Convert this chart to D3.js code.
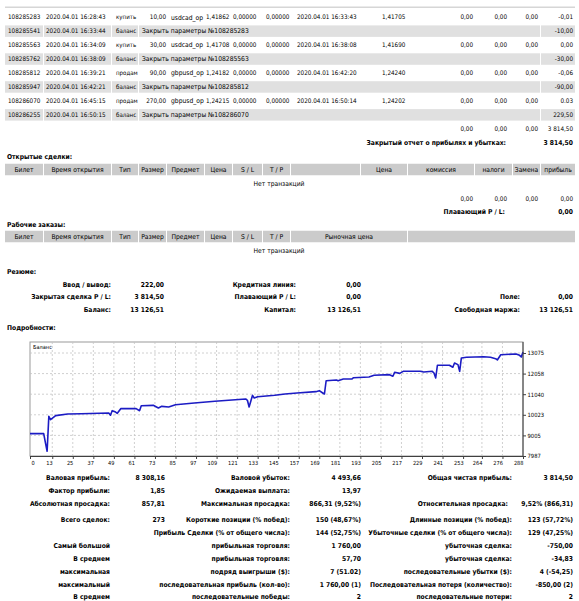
<!DOCTYPE html>
<html>
<head>
<meta charset="utf-8">
<script src="https://cdn.jsdelivr.net/npm/d3@7"></script>
<style>
body { margin: 0; background: #fff; }
svg text { font-family: "DejaVu Sans Condensed", "Liberation Sans", sans-serif; fill: #000; }
</style>
</head>
<body>
<div id="page"></div>
<script>
// --- closed trades table ---
const tickets = ["108285283", "108285541", "108285563", "108285762", "108285812", "108285947", "108286070", "108286255"];
const openTimes = ["2020.04.01 16:28:43", "2020.04.01 16:33:44", "2020.04.01 16:34:09", "2020.04.01 16:38:09",
                   "2020.04.01 16:39:21", "2020.04.01 16:42:21", "2020.04.01 16:45:15", "2020.04.01 16:50:15"];
const types = ["купить", "баланс", "купить", "баланс", "продам", "баланс", "продам", "баланс"];
const sizes = ["10,00", "", "30,00", "", "90,00", "", "270,00", ""];
const items = ["usdcad_op", "", "usdcad_op", "", "gbpusd_op", "", "gbpusd_op", ""];
const openPrices = ["1,41862", "", "1,41708", "", "1,24182", "", "1,24215", ""];
const comments = ["", "Закрыть параметры №108285283", "", "Закрыть параметры №108285563", "", "Закрыть параметры №108285812", "", "Закрыть параметры №108286070"];
const closeTimes = ["2020.04.01 16:33:43", "", "2020.04.01 16:38:08", "", "2020.04.01 16:42:20", "", "2020.04.01 16:50:14", ""];
const closePrices = ["1,41705", "", "1,41690", "", "1,24240", "", "1,24202", ""];
const profits = ["-0,01", "-10,00", "0,00", "-30,00", "-0,06", "-90,00", "0.03", "229,50"];

const headerLabels = ["Билет", "Время открытия", "Тип", "Размер", "Предмет", "Цена", "S / L", "T / P"];
const openHeaderExtra = ["", "Цена", "комиссия", "налоги", "Замена", "прибыль"];
const pendingHeaderExtra = ["Рыночная цена", ""];

// --- summary ---
const summaryRows = [
  ["Ввод / вывод:", "222,00", "Кредитная линия:", "0,00", "", ""],
  ["Закрытая сделка P / L:", "3 814,50", "Плавающий P / L:", "0,00", "Поле:", "0,00"],
  ["Баланс:", "13 126,51", "Капитал:", "13 126,51", "Свободная маржа:", "13 126,51"]
];

// --- balance curve (trade number -> balance) ---
const tradeNo = [0, 8, 9, 10, 11, 12, 15, 22, 30, 46, 47, 48, 50, 51, 53, 62, 64, 65, 72, 75, 77, 81, 85, 96, 108,
  126, 127, 128, 130, 131, 133, 143, 149, 156, 167, 169, 171, 172, 173, 179, 180, 183, 188, 189, 198, 201,
  210, 212, 213, 216, 218, 228, 230, 235, 236, 237, 238, 245, 247, 248, 250, 251, 252, 255, 265, 269, 272,
  273, 275, 284, 286, 287, 288];
const balance = [9090, 9090, 8650, 8220, 9950, 9780, 9980, 10060, 10075, 10110, 10000, 10225, 10160, 10095, 10325,
  10325, 10225, 10470, 10490, 10360, 10440, 10410, 10520, 10605, 10690, 10805, 10740, 10410, 10985, 10850,
  10915, 10985, 11050, 11100, 11165, 11215, 11100, 11050, 11705, 11740, 11705, 11790, 11790, 11855, 11890,
  11975, 12005, 11925, 12120, 12070, 12170, 12170, 12135, 12170, 12085, 11840, 12470, 12470, 12370, 12580,
  12500, 12170, 12830, 12865, 12890, 12865, 12795, 12730, 12990, 13025, 12960, 12875, 13126.51];
const xTicks = [0, 13, 25, 37, 49, 61, 73, 85, 97, 109, 121, 133, 145, 157, 169, 181, 193, 205, 217, 229, 241, 253, 264, 276, 288];
const yTicks = [7987, 9005, 10023, 11040, 12058, 13075];

// --- details ---
const statsRows = [
  ["Валовая прибыль:", "8 308,16", "Валовой убыток:", "4 493,66", "Общая чистая прибыль:", "3 814,50"],
  ["Фактор прибыли:", "1,85", "Ожидаемая выплата:", "13,97", "", ""],
  ["Абсолютная просадка:", "857,81", "Максимальная просадка:", "866,31 (9,52%)", "Относительная просадка:", "9,52% (866,31)"],
  ["Всего сделок:", "273", "Короткие позиции (% побед):", "150 (48,67%)", "Длинные позиции (% побед):", "123 (57,72%)"],
  ["", "", "Прибыль Сделки (% от общего числа):", "144 (52,75%)", "Убыточные сделки (% от общего числа):", "129 (47,25%)"],
  ["Самый большой", "", "прибыльная торговля:", "1 760,00", "убыточная сделка:", "-750,00"],
  ["В среднем", "", "прибыльная торговля:", "57,70", "убыточная сделка:", "-34,83"],
  ["максимальная", "", "подряд выигрыши ($):", "7 (51.02)", "последовательные убытки ($):", "4 (-54,25)"],
  ["максимальный", "", "последовательная прибыль (кол-во):", "1 760,00 (1)", "Последовательная потеря (количество):", "-850,00 (2)"],
  ["В среднем", "", "последовательные победы:", "2", "последовательные потери:", "2"]
];

const W = 579, H = 601, FS = 6.7;
const svg = d3.select("#page").append("svg").attr("width", W).attr("height", H);
svg.append("rect").attr("width", W).attr("height", H).attr("fill", "#fff");

function txt(x, y, s, anchor, bold, size) {
  if (!s) return;
  svg.append("text")
    .attr("x", x).attr("y", y).attr("dy", "0.35em")
    .attr("text-anchor", anchor || "start")
    .attr("font-size", size || FS)
    .attr("font-weight", bold ? "bold" : "normal")
    .text(s);
}
function cells(y, h, bounds, fill) {
  bounds.forEach(b => {
    svg.append("rect").attr("x", b[0]).attr("y", y - h / 2).attr("width", b[1] - b[0]).attr("height", h).attr("fill", fill);
  });
}

// top strip
svg.append("rect").attr("x", 5).attr("y", 6.5).attr("width", 570).attr("height", 1.5).attr("fill", "#d6d6d6");

// closed trades
const rowY = i => 17.2 + 13.95 * i;
const NUM = 6.3; // numeric columns are a touch tighter in the reference
tickets.forEach((t, i) => {
  const y = rowY(i);
  if (types[i] === "баланс") cells(y, 11.5, [[5, 43], [44, 111], [112, 138], [139, 540], [541, 575]], "#e0e0e0");
  txt(8, y, t, "start", false, NUM);
  txt(46, y, openTimes[i], "start", false, NUM);
  txt(116, y, types[i], "start", false, 6.1);
  if (types[i] === "баланс") {
    txt(142, y, comments[i]);
  } else {
    txt(166, y, sizes[i], "end", false, NUM);
    txt(171, y, items[i]);
    txt(206, y, openPrices[i], "start", false, NUM);
    txt(233, y, "0,00000", "start", false, NUM);
    txt(266, y, "0,00000", "start", false, NUM);
    txt(297, y, closeTimes[i], "start", false, NUM);
    txt(382, y, closePrices[i], "start", false, NUM);
    txt(473, y, "0,00", "end", false, NUM);
    txt(507, y, "0,00", "end", false, NUM);
    txt(538, y, "0,00", "end", false, NUM);
  }
  txt(573, y, profits[i], "end", false, NUM);
});
txt(473, rowY(8), "0,00", "end", false, NUM);
txt(507, rowY(8), "0,00", "end", false, NUM);
txt(538, rowY(8), "0,00", "end", false, NUM);
txt(573, rowY(8), "3 814,50", "end", false, NUM);
txt(506, rowY(9), "Закрытый отчет о прибылях и убытках:", "end", true);
txt(573, rowY(9), "3 814,50", "end", true);

// open trades / pending orders headers
const baseCells = [[5, 43], [44, 111], [112, 138], [139, 166], [167, 204], [205, 232], [233, 262], [263, 290]];
function header(y, extraCells, extraLabels) {
  const all = baseCells.concat(extraCells);
  const labs = headerLabels.concat(extraLabels);
  cells(y, 11.5, all, "#cbcbcb");
  all.forEach((c, i) => txt((c[0] + c[1]) / 2, y, labs[i], "middle"));
}
txt(7, 157, "Открытые сделки:", "start", true);
header(169.5, [[291, 360], [361, 407], [408, 474], [475, 512], [513, 540], [541, 575]], openHeaderExtra);
txt(279, 183.5, "Нет транзакций", "middle");
txt(473, 199, "0,00", "end", false, NUM);
txt(507, 199, "0,00", "end", false, NUM);
txt(538, 199, "0,00", "end", false, NUM);
txt(573, 199, "0,00", "end", false, NUM);
txt(505, 211.5, "Плавающий P / L:", "end", true);
txt(573, 211.5, "0,00", "end", true);

txt(7, 225, "Рабочие заказы:", "start", true);
header(236.5, [[291, 407], [408, 575]], pendingHeaderExtra);
txt(279, 250.5, "Нет транзакций", "middle");

// summary
txt(7, 271.5, "Резюме:", "start", true);
const sumY = [284.5, 297, 309.5];
const sumCols = [111, 164, 296, 361, 520, 573];
summaryRows.forEach((r, i) => r.forEach((s, j) => txt(sumCols[j], sumY[i], s, "end", true)));

txt(7, 328, "Подробности:", "start", true);

// balance chart
const plot = { left: 30, right: 523, top: 342, bottom: 456 };
const x = d3.scaleLinear().domain([0, 288]).range([plot.left, plot.right]);
const y = d3.scaleLinear().domain([7987, 13075]).range([456, 353]);
const cg = svg.append("g");
cg.append("rect").attr("x", plot.left).attr("y", plot.top)
  .attr("width", plot.right - plot.left).attr("height", plot.bottom - plot.top)
  .attr("fill", "#fff").attr("stroke", "#9a9a9a").attr("stroke-width", 1);
cg.selectAll(".vgrid").data(xTicks.slice(1, -1)).enter().append("line")
  .attr("class", "vgrid")
  .attr("x1", d => x(d)).attr("x2", d => x(d))
  .attr("y1", plot.top).attr("y2", plot.bottom)
  .attr("stroke", "#c4c4c4").attr("stroke-dasharray", "2,2").attr("stroke-width", 0.8);
cg.selectAll(".hgrid").data(yTicks.slice(1)).enter().append("line")
  .attr("class", "hgrid")
  .attr("x1", plot.left).attr("x2", plot.right)
  .attr("y1", d => y(d)).attr("y2", d => y(d))
  .attr("stroke", "#c4c4c4").attr("stroke-dasharray", "2,2").attr("stroke-width", 0.8);

const pts = tradeNo.map((t, i) => [t, balance[i]]);
cg.append("path").datum(pts)
  .attr("fill", "none").attr("stroke", "#1c1cc4").attr("stroke-width", 1.6)
  .attr("stroke-linejoin", "round")
  .attr("d", d3.line().x(d => x(d[0])).y(d => y(d[1])));

const xAxis = cg.append("g").attr("transform", `translate(0,${plot.bottom})`)
  .call(d3.axisBottom(x).tickValues(xTicks).tickFormat(d3.format("d")).tickSize(3).tickSizeOuter(0));
xAxis.select(".domain").attr("stroke", "#404040");
xAxis.selectAll(".tick line").attr("stroke", "#404040");
xAxis.selectAll(".tick text")
  .attr("font-size", 5.6).attr("y", 5).attr("dy", "0.71em")
  .attr("text-anchor", (d, i) => i === 0 ? "start" : "end")
  .attr("x", (d, i) => i === 0 ? 1 : 0);

const yAxis = cg.append("g").attr("transform", `translate(${plot.right},0)`)
  .call(d3.axisRight(y).tickValues(yTicks).tickFormat(d3.format("d")).tickSize(3).tickSizeOuter(0));
yAxis.select(".domain").attr("stroke", "#404040")
  .attr("d", `M0,${plot.top}V${plot.bottom}`);
yAxis.selectAll(".tick line").attr("stroke", "#404040");
yAxis.selectAll(".tick text").attr("font-size", 5.8).attr("x", 4.5);

cg.append("text").attr("x", 33).attr("y", 347.5).attr("dy", "0.35em")
  .attr("font-size", 5.6).text("Баланс");

// details
const statY = [478, 491, 504, 519.5, 532.5, 545.5, 558.5, 571.5, 584.5, 596.5];
const statCols = [110, 165, 290, 361, 512, 573];
statsRows.forEach((r, i) => r.forEach((s, j) => {
  const cx = (i === 2 && j === 4) ? 508 : statCols[j];
  txt(cx, statY[i], s, "end", true);
}));
</script>
</body>
</html>
